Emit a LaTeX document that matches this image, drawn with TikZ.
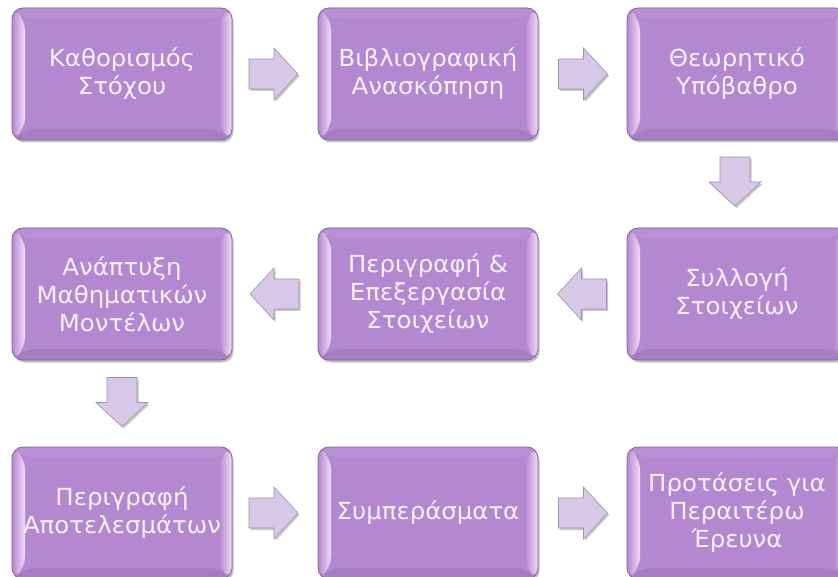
\documentclass[tikz,border=0pt]{standalone}
\usepackage{fontspec}
\newfontfamily\boxfont[FakeStretch=1.04]{DejaVu Sans}
\usetikzlibrary{calc,shadows}
\definecolor{boxmid}{HTML}{B488D0}
\definecolor{boxedge}{HTML}{86669A}
\definecolor{boxtop}{HTML}{BA90D5}
\definecolor{boxbot}{HTML}{A67DC1}
\definecolor{bevhi}{HTML}{F2DCF8}
\definecolor{arrfill}{HTML}{D8C8E8}
\definecolor{arredge}{HTML}{A090B0}
\definecolor{txt}{HTML}{F7F0FA}
\tikzset{
  stepbox/.style={rounded corners=11pt, minimum width=220pt, minimum height=132pt,
    inner sep=0pt, fill=boxmid, draw=boxedge, line width=0.8pt,
    drop shadow={opacity=0.35, shadow xshift=1.5pt, shadow yshift=-2.5pt, fill=black!70},
    text=txt, align=center, font=\boxfont\fontsize{23.5}{28}\selectfont,
    path picture={
      \fill[boxtop] (path picture bounding box.north west) -- (path picture bounding box.north east)
        -- ($(path picture bounding box.north east)+(-13,11)$) -- ($(path picture bounding box.north west)+(13,11)$) -- cycle;
      \fill[boxbot] (path picture bounding box.south west) -- (path picture bounding box.south east)
        -- ($(path picture bounding box.south east)+(-13,-11)$) -- ($(path picture bounding box.south west)+(13,-11)$) -- cycle;
      \shade[left color=boxmid, right color=bevhi] (path picture bounding box.north west)
        -- ($(path picture bounding box.north west)+(13,11)$) -- ($(path picture bounding box.south west)+(13,-11)$)
        -- (path picture bounding box.south west) -- cycle;
      \shade[left color=boxmid, right color=bevhi] (path picture bounding box.north east)
        -- ($(path picture bounding box.north east)+(-13,11)$) -- ($(path picture bounding box.south east)+(-13,-11)$)
        -- (path picture bounding box.south east) -- cycle;
    }},
  blockarr/.style={fill=arrfill, draw=arredge, line width=0.6pt, line join=miter},
  blockshadow/.style={fill=black, opacity=0.22}
}
\newcommand\blockarrow[2]{%
  \begin{scope}[shift={#1}]
    \begin{scope}[shift={(1.5,2)},rotate=#2]
      \fill[blockshadow] (-24,-15) -- (1,-15) -- (1,-26) -- (25,0) -- (1,26) -- (1,15) -- (-24,15) -- cycle;
    \end{scope}
    \begin{scope}[rotate=#2]
      \filldraw[blockarr] (-24,-15) -- (1,-15) -- (1,-26) -- (25,0) -- (1,26) -- (1,15) -- (-24,15) -- cycle;
    \end{scope}
  \end{scope}}
\begin{document}
\begin{tikzpicture}[x=1pt,y=-1pt]
\useasboundingbox (0,0) rectangle (838,577);
\node[stepbox] (s1) at (122,74) {Καθορισμός\\Στόχου};
\node[stepbox] (s2) at (428,74) {Βιβλιογραφική\\Ανασκόπηση};
\node[stepbox] (s3) at (737,74) {Θεωρητικό\\Υπόβαθρο};
\node[stepbox] (s4) at (737,294) {Συλλογή\\Στοιχείων};
\node[stepbox] (s5) at (428,294) {Περιγραφή \&\\Επεξεργασία\\Στοιχείων};
\node[stepbox] (s6) at (122,294) {Ανάπτυξη\\Μαθηματικών\\Μοντέλων};
\node[stepbox] (s7) at (122,513) {Περιγραφή\\Αποτελεσμάτων};
\node[stepbox] (s8) at (428,513) {Συμπεράσματα};
\node[stepbox] (s9) at (737,513) {Προτάσεις για\\Περαιτέρω\\Έρευνα};
\blockarrow{($(s1.east)!0.5!(s2.west)+(-2,0)$)}{0}
\blockarrow{($(s2.east)!0.5!(s3.west)$)}{0}
\blockarrow{($(s3.south)!0.5!(s4.north)+(-2,-3)$)}{-90}
\blockarrow{($(s4.west)!0.5!(s5.east)$)}{180}
\blockarrow{($(s5.west)!0.5!(s6.east)$)}{180}
\blockarrow{($(s6.south)!0.5!(s7.north)+(0,-2)$)}{-90}
\blockarrow{($(s7.east)!0.5!(s8.west)+(-2,0)$)}{0}
\blockarrow{($(s8.east)!0.5!(s9.west)$)}{0}
\end{tikzpicture}
\end{document}
